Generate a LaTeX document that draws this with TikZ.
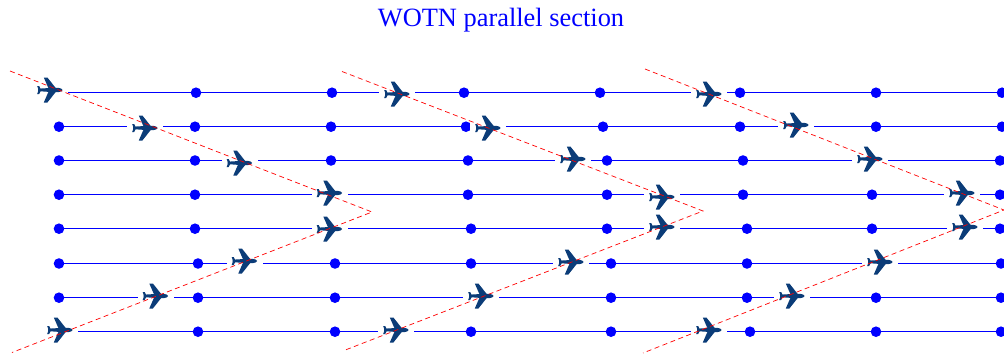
\documentclass[tikz,border=0pt]{standalone}
\usepackage{fontspec}
\setmainfont{Liberation Serif}
\definecolor{planecol}{HTML}{0B3C78}
\tikzset{
  x=1pt,y=-1pt,
  dotnode/.style={circle,fill=blue,draw=none,inner sep=0pt,minimum size=10.6pt},
  railline/.style={draw=blue,line width=1.5pt},
  planebox/.style={rectangle,fill=white,draw=none,inner sep=0pt,minimum width=36pt,minimum height=24pt},
  wave/.style={draw=red,line width=0.7pt,dash pattern=on 5pt off 3.5pt},
  titlenode/.style={text=blue,font=\fontsize{26.4}{30}\selectfont,inner sep=0pt},
  pics/plane/.style={code={
    \fill[planecol] (-12,-1.3) -- (3,-2.2) -- (8,-2.2) .. controls (11,-2) and (12.5,-.9) .. (12.5,0)
       .. controls (12.5,.9) and (11,2) .. (8,2.2) -- (3,2.2) -- (-12,1.1) -- cycle;
    \fill[planecol] (-6.2,-12.5) -- (-2.6,-12.5) -- (6.5,-1) -- (-1.2,-1) -- cycle;
    \fill[planecol] (-6.2,12.5) -- (-2.6,12.5) -- (6.5,1) -- (-1.2,1) -- cycle;
    \fill[planecol] (-12.8,-4) -- (-10.8,-4) -- (-9,-.5) -- (-9,.5) -- (-10.8,4) -- (-12.8,4) -- (-11.4,0) -- cycle;
  }}
}
\begin{document}
\begin{tikzpicture}
\useasboundingbox (0,0) rectangle (1004,356);
\node[titlenode] (title) at (501,20.5) {WOTN parallel section};
% rails and stations, rows top to bottom
\foreach \y/\r/\xa/\xs in {
  92.7/1/50/{196,332,464,600,740,876,1002},
  126.7/2/59/{59,195,331,466,603,740,876,1002},
  160.5/3/59/{59,195,331,468,607,743,876,1000},
  194.7/4/59/{59,195,331,468,607,743,872,1000},
  228.7/5/59/{59,195,331,471,607,747,872,1000},
  263.5/6/59/{59,198,335,471,611,747,876,1001},
  297.7/7/59/{59,198,335,471,611,747,876,1001},
  331.7/8/60/{198,335,471,611,750,876,1001}}{
  \coordinate (a\r) at (\xa,\y);
  \coordinate (e\r) at (1004,\y);
  \draw[railline] (a\r) -- (e\r);
  \foreach \x [count=\i] in \xs {\node[dotnode] (d\r-\i) at (\x,\y) {};}
}
% aircraft
\foreach \n/\x/\y in {
  a/50/90, b/145/128, c/239.5/163, d/329.5/193, e/329.5/229, f/244.5/261, g/155.5/296, h/60/330,
  i/397/94, j/488/128, k/573/159, l/662/197, m/662/227, n/571/262, o/481/296, p/396/330,
  q/709/94, r/796/125, s/870/159, t/962/193, u/965/227, v/880/262, w/792/296, z/709/330}{
  \node[planebox] (pl\n) at (\x,\y) {};
  \pic at (pl\n) {plane};
}
% sweep fronts
\coordinate (t1) at (10,71); \coordinate (m1) at (372,212); \coordinate (b1) at (12,352.5);
\coordinate (t2) at (342,71.5); \coordinate (m2) at (703,211); \coordinate (b2) at (344,350.5);
\coordinate (t3) at (645,69); \coordinate (m3) at (1004,210); \coordinate (b3) at (643,353);
\foreach \k in {1,2,3} {\draw[wave] (t\k) -- (m\k) -- (b\k);}
\end{tikzpicture}
\end{document}
